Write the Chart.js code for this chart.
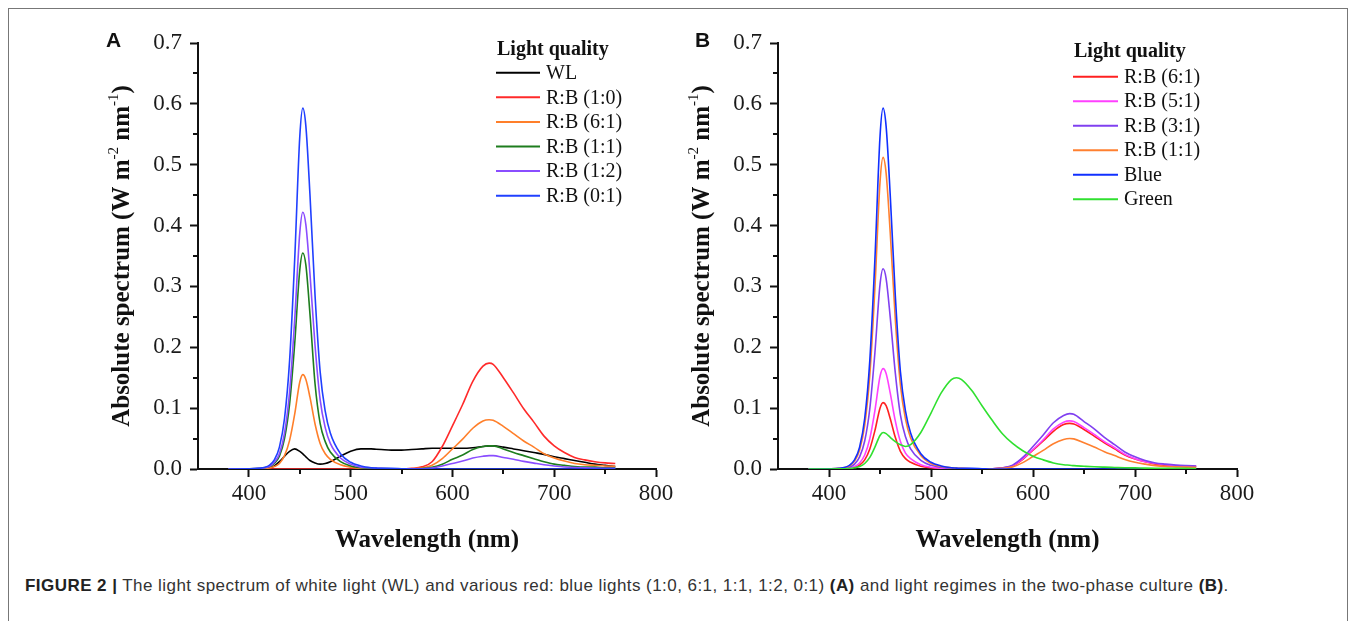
<!DOCTYPE html>
<html><head><meta charset="utf-8">
<script src="https://cdn.jsdelivr.net/npm/chart.js@4.4.1/dist/chart.umd.min.js"></script>
<style>
html,body{margin:0;padding:0;background:#fff;width:1357px;height:621px;overflow:hidden;}
.frame{position:absolute;left:8px;top:8px;width:1340px;height:700px;border:1px solid #777;box-sizing:border-box;}
.cv{position:absolute;top:20px;}
.plabel{position:absolute;font-family:"Liberation Sans",Arial,sans-serif;font-weight:bold;font-size:21px;line-height:21px;color:#111;}
.caption{position:absolute;left:25px;top:577px;font-family:"Liberation Sans",Arial,sans-serif;font-size:17px;line-height:17px;letter-spacing:0.45px;color:#333;white-space:nowrap;}
.caption b{color:#222;}
</style></head><body>
<div class="frame"></div>
<canvas id="chartA" class="cv" style="left:100px" width="580" height="540"></canvas>
<canvas id="chartB" class="cv" style="left:680px" width="580" height="540"></canvas>
<div class="plabel" style="left:106px;top:29px">A</div>
<div class="plabel" style="left:695px;top:29px">B</div>
<div class="caption"><b>FIGURE 2 |</b> The light spectrum of white light (WL) and various red: blue lights (1:0, 6:1, 1:1, 1:2, 0:1) <b>(A)</b> and light regimes in the two-phase culture <b>(B)</b>.</div>
<script>
// ---- data ----
const wavelengths = [380,400,410,420,425, 430,435,440,445,450, 453,456,460,465,470, 475,480,490,500,510, 520,525,530,540,550, 560,570,580,590,600, 610,620,630,636,640, 650,660,670,680,690, 700,710,720,730,740, 750,760];

const xTicks = [400,500,600,700,800];
const xMinor = [450,550,650,750];
const yTicks = [0,0.1,0.2,0.3,0.4,0.5,0.6,0.7];
const yMinor = [0.05,0.15,0.25,0.35,0.45,0.55,0.65];

// Panel A
const labelsA = ['WL','R:B (1:0)','R:B (6:1)','R:B (1:1)','R:B (1:2)','R:B (0:1)'];
const colorsA = ['#000000','#ff2a2a','#ff7f2a','#1e7d1e','#8a4dff','#2040ff'];
const A_WL  = [0,0,0.0005,0.002,0.005, 0.012,0.021,0.029,0.033,0.029, 0.025,0.020,0.014,0.010,0.008, 0.009,0.012,0.021,0.029,0.033, 0.033,0.0325,0.032,0.031,0.031, 0.032,0.033,0.034,0.034,0.034, 0.034,0.035,0.037,0.038,0.038, 0.036,0.033,0.030,0.027,0.024, 0.020,0.017,0.014,0.011,0.008, 0.006,0.004];
const A_R10 = [0,0,0,0,0, 0,0,0,0,0, 0,0,0,0,0, 0,0,0,0,0, 0,0,0,0,0, 0.001,0.0035,0.012,0.037,0.071, 0.106,0.144,0.169,0.174,0.172, 0.150,0.125,0.099,0.077,0.054, 0.038,0.027,0.019,0.015,0.012, 0.010,0.009];
const A_R61 = [0,0,0.0003,0.0016,0.004, 0.009,0.022,0.047,0.090,0.143, 0.155,0.147,0.118,0.074,0.042, 0.025,0.016,0.007,0.003,0.001, 0.0006,0.0004,0.0003,0.0002,0.0002, 0.0005,0.0016,0.006,0.017,0.033, 0.049,0.067,0.079,0.081,0.080, 0.070,0.058,0.046,0.036,0.025, 0.018,0.013,0.009,0.007,0.006, 0.005,0.0044];
const A_R11 = [0,0.0002,0.001,0.004,0.009, 0.021,0.050,0.107,0.206,0.327, 0.355,0.335,0.255,0.140,0.075, 0.045,0.028,0.012,0.005,0.002, 0.001,0.0008,0.0006,0.0004,0.0003, 0.0004,0.0008,0.003,0.008,0.016, 0.023,0.032,0.037,0.038,0.038, 0.033,0.027,0.022,0.017,0.012, 0.008,0.006,0.004,0.003,0.003, 0.002,0.002];
const A_R12 = [0,0.0002,0.001,0.004,0.011, 0.025,0.059,0.127,0.245,0.388, 0.422,0.401,0.321,0.203,0.114, 0.068,0.042,0.018,0.008,0.003, 0.002,0.0015,0.001,0.0004,0.0002, 0.0002,0.0004,0.0015,0.005,0.009, 0.013,0.018,0.021,0.022,0.022, 0.019,0.016,0.0125,0.0097,0.007, 0.005,0.0034,0.0024,0.0019,0.0015, 0.0013,0.0012];
const A_R01 = [0,0.0003,0.001,0.006,0.015, 0.036,0.083,0.178,0.344,0.546, 0.593,0.563,0.451,0.285,0.160, 0.095,0.059,0.025,0.011,0.005, 0.002,0.0015,0.001,0.001,0.0005, 0,0,0,0,0, 0,0,0,0,0, 0,0,0,0,0, 0,0,0,0,0, 0,0];

// Panel B
const labelsB = ['R:B (6:1)','R:B (5:1)','R:B (3:1)','R:B (1:1)','Blue','Green'];
const colorsB = ['#ff2020','#ff40ff','#8040f0','#ff8030','#1030ff','#30e030'];
const B_R61 = [0,0.0001,0.0002,0.0011,0.003, 0.0065,0.015,0.033,0.063,0.100, 0.109,0.104,0.083,0.052,0.029, 0.017,0.011,0.0046,0.002,0.0009, 0.0004,0.0003,0.0002,0.0001,0.0001, 0.0004,0.0015,0.005,0.016,0.031, 0.046,0.062,0.073,0.075,0.074, 0.065,0.054,0.043,0.033,0.023, 0.0165,0.012,0.008,0.006,0.005, 0.0045,0.004];
const B_R51 = [0,0.0001,0.0003,0.0017,0.004, 0.010,0.023,0.050,0.096,0.152, 0.165,0.157,0.125,0.079,0.045, 0.026,0.017,0.007,0.003,0.0013, 0.0007,0.0005,0.0003,0.0002,0.0002, 0.0004,0.0016,0.0055,0.017,0.032, 0.048,0.066,0.077,0.079,0.078, 0.068,0.057,0.045,0.035,0.024, 0.017,0.012,0.009,0.007,0.0055, 0.0047,0.0043];
const B_R31 = [0,0.0002,0.0007,0.003,0.008, 0.020,0.046,0.099,0.191,0.303, 0.329,0.313,0.250,0.158,0.089, 0.053,0.033,0.014,0.006,0.003, 0.001,0.0009,0.0007,0.0003,0.0003, 0.0005,0.002,0.0064,0.019,0.037, 0.056,0.076,0.088,0.091,0.090, 0.078,0.066,0.052,0.040,0.028, 0.020,0.014,0.010,0.008,0.0064, 0.0055,0.0049];
const B_R11 = [0,0.0003,0.001,0.005,0.013, 0.031,0.072,0.154,0.297,0.471, 0.512,0.486,0.389,0.246,0.138, 0.082,0.051,0.022,0.009,0.004, 0.002,0.0015,0.001,0.0005,0.0003, 0.0003,0.001,0.0035,0.0105,0.0205, 0.0305,0.0415,0.0485,0.050,0.0495, 0.043,0.036,0.0285,0.022,0.0155, 0.011,0.008,0.0055,0.004,0.0035, 0.003,0.0027];
const B_Blue = [0,0.0003,0.001,0.006,0.015, 0.036,0.083,0.178,0.344,0.546, 0.593,0.563,0.451,0.285,0.160, 0.095,0.059,0.025,0.011,0.005, 0.002,0.0015,0.001,0.001,0.0005, 0,0,0,0,0, 0,0,0,0,0, 0,0,0,0,0, 0,0,0,0,0, 0,0];
const B_Green = [0,0,0.0002,0.0008,0.002, 0.004,0.009,0.019,0.036,0.055, 0.060,0.058,0.052,0.045,0.040, 0.037,0.040,0.060,0.092,0.125, 0.147,0.150,0.147,0.129,0.104, 0.080,0.058,0.042,0.030,0.021, 0.015,0.010,0.007,0.0062,0.0055, 0.0045,0.0036,0.003,0.0025,0.002, 0.0018,0.0015,0.0013,0.0012,0.001, 0.001,0.0009];

// ---- plugins ----
const SERIF = "'Liberation Serif','Times New Roman',serif";
const minorTicks = {
  id: 'minorTicks',
  afterDraw(chart) {
    const {ctx, scales: {x, y}} = chart;
    ctx.save();
    ctx.strokeStyle = '#111'; ctx.lineWidth = 2;
    xMinor.forEach(v => { const px = Math.round(x.getPixelForValue(v)); ctx.beginPath(); ctx.moveTo(px, y.bottom); ctx.lineTo(px, y.bottom + 5); ctx.stroke(); });
    yMinor.forEach(v => { const py = Math.round(y.getPixelForValue(v)); ctx.beginPath(); ctx.moveTo(x.left, py); ctx.lineTo(x.left - 5, py); ctx.stroke(); });
    ctx.restore();
  }
};
const yTitle = {
  id: 'yTitle',
  afterDraw(chart, args, opts) {
    const ctx = chart.ctx, ca = chart.chartArea;
    const parts = [['Absolute spectrum (W m', false], ['-2', true], [' nm', false], ['-1', true], [')', false]];
    const bigFont = 'bold 25px ' + SERIF, supFont = '15px ' + SERIF;
    let total = 0;
    parts.forEach(p => { ctx.font = p[1] ? supFont : bigFont; total += ctx.measureText(p[0]).width; });
    ctx.save();
    ctx.translate(opts.baseX, (ca.top + ca.bottom) / 2);
    ctx.rotate(-Math.PI / 2);
    ctx.fillStyle = '#111'; ctx.textBaseline = 'alphabetic'; ctx.textAlign = 'left';
    let cx = -total / 2;
    parts.forEach(p => {
      ctx.font = p[1] ? supFont : bigFont;
      ctx.fillText(p[0], cx, p[1] ? -11 : 0);
      cx += ctx.measureText(p[0]).width;
    });
    ctx.restore();
  }
};
const spectrumLegend = {
  id: 'spectrumLegend',
  afterDraw(chart, args, opts) {
    const ctx = chart.ctx;
    ctx.save();
    ctx.textBaseline = 'middle'; ctx.textAlign = 'left';
    ctx.fillStyle = '#111';
    ctx.font = 'bold 20px ' + SERIF;
    ctx.fillText('Light quality', opts.titleX, opts.titleY);
    ctx.font = '20px ' + SERIF;
    chart.data.datasets.forEach((ds, i) => {
      const y = opts.rowY + i * opts.rowGap;
      ctx.strokeStyle = ds.borderColor; ctx.lineWidth = 2;
      ctx.beginPath(); ctx.moveTo(opts.x, y); ctx.lineTo(opts.x + opts.lineLen, y); ctx.stroke();
      ctx.fillStyle = '#111';
      ctx.fillText(ds.label, opts.x + opts.lineLen + 6, y + 1);
    });
    ctx.restore();
  }
};

function makeChart(id, labels, colors, series, legendCfg, padRight) {
  const n = series.length;
  const datasets = series.map((vals, i) => ({
    label: labels[i],
    data: wavelengths.map((w, j) => ({x: w, y: vals[j]})),
    borderColor: colors[i], backgroundColor: colors[i],
    borderWidth: 1.6, pointRadius: 0, fill: false,
    cubicInterpolationMode: 'monotone',
    order: n - 1 - i
  }));
  return new Chart(document.getElementById(id), {
    type: 'line',
    data: {datasets},
    options: {
      responsive: false, animation: false, devicePixelRatio: 1,
      layout: {padding: {top: 23, right: padRight, left: 0, bottom: 0}},
      plugins: {legend: {display: false}, tooltip: {enabled: false},
        spectrumLegend: legendCfg, yTitle: {baseX: 29}},
      scales: {
        x: {
          type: 'linear', min: 350, max: 800,
          afterBuildTicks: s => { s.ticks = xTicks.map(v => ({value: v})); },
          afterFit: s => { s.height = 91; },
          grid: {display: true, drawOnChartArea: false, drawTicks: true, tickLength: 8, tickWidth: 2, tickColor: '#111'},
          border: {display: true, width: 2, color: '#111'},
          ticks: {font: {family: SERIF, size: 23}, color: '#1a1a1a', padding: 3, maxRotation: 0, autoSkip: false, callback: v => String(v)},
          title: {display: true, text: 'Wavelength (nm)', font: {family: SERIF, size: 25, weight: 'bold'}, color: '#111', padding: {top: 0, bottom: 4}}
        },
        y: {
          type: 'linear', min: 0, max: 0.7,
          afterBuildTicks: s => { s.ticks = yTicks.map(v => ({value: v})); },
          afterFit: s => { s.width = 98; },
          grid: {display: true, drawOnChartArea: false, drawTicks: true, tickLength: 8, tickWidth: 2, tickColor: '#111'},
          border: {display: true, width: 2, color: '#111'},
          ticks: {font: {family: SERIF, size: 23}, color: '#1a1a1a', padding: 8, autoSkip: false, callback: v => Number(v).toFixed(1)},
          title: {display: false}
        }
      }
    },
    plugins: [minorTicks, yTitle, spectrumLegend]
  });
}

makeChart('chartA', labelsA, colorsA, [A_WL, A_R10, A_R61, A_R11, A_R12, A_R01],
  {x: 396, titleX: 397, titleY: 30, rowY: 52.7, rowGap: 24.6, lineLen: 44}, 24);
makeChart('chartB', labelsB, colorsB, [B_R61, B_R51, B_R31, B_R11, B_Blue, B_Green],
  {x: 393, titleX: 394, titleY: 32.3, rowY: 56.7, rowGap: 24.5, lineLen: 45}, 23);
</script>
</body></html>
